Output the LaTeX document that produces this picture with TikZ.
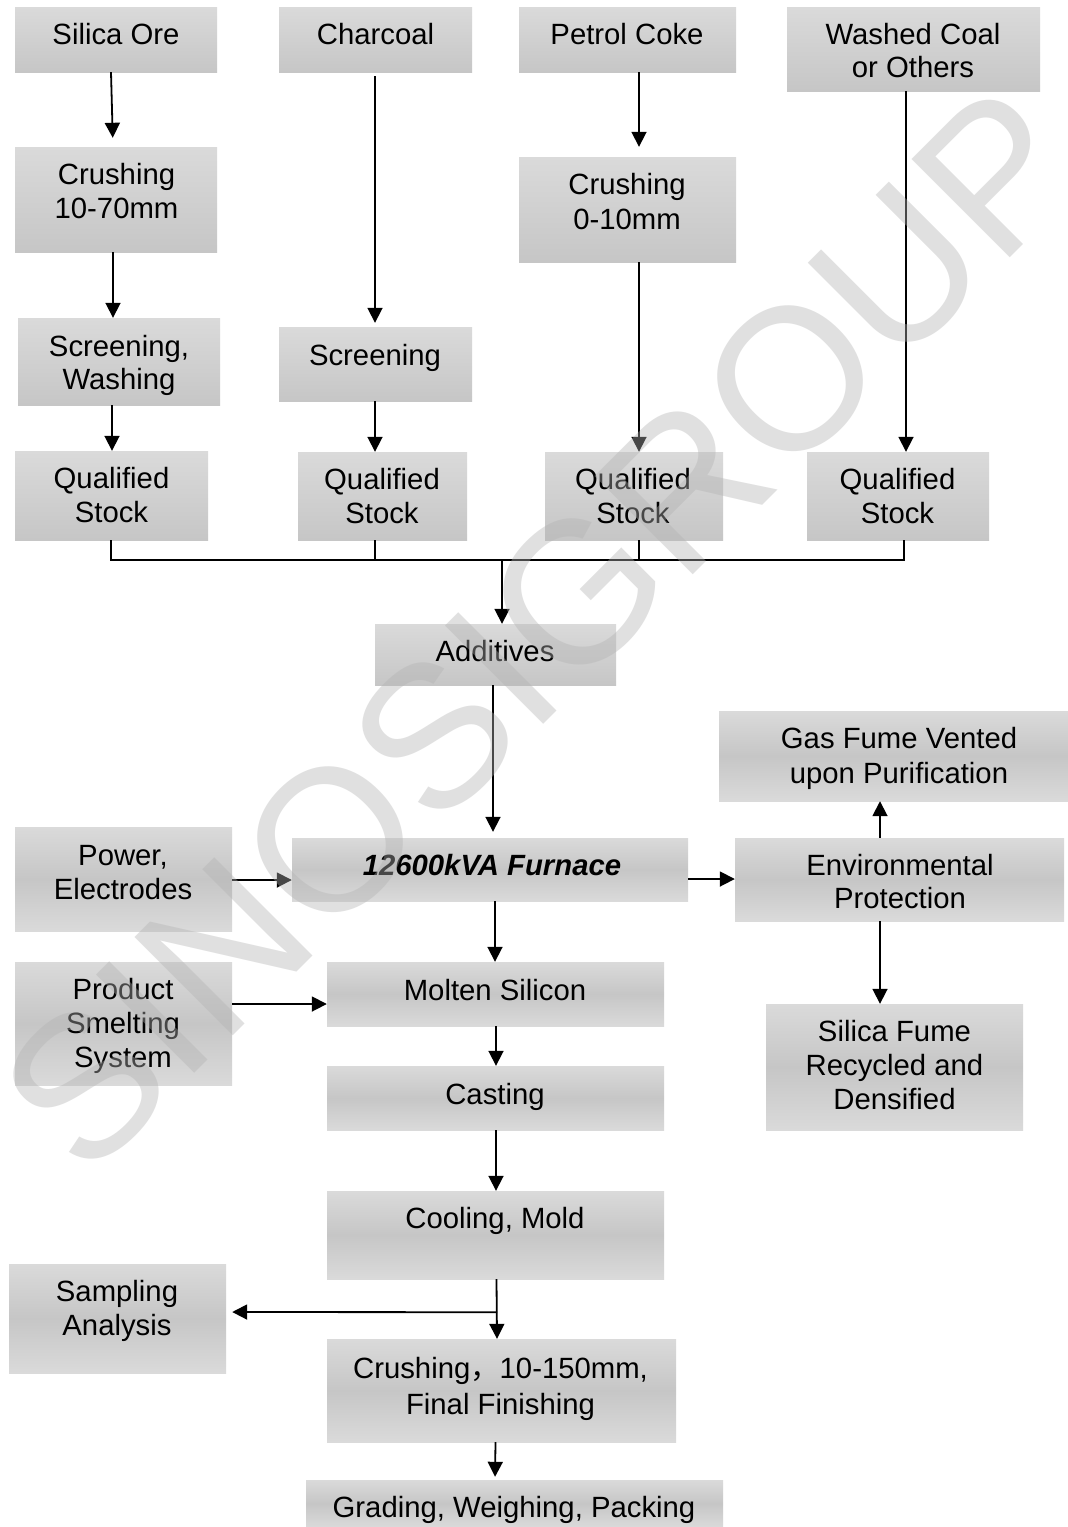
\documentclass[tikz,border=0pt]{standalone}
\usepackage{fontspec}
\setmainfont{Liberation Sans}
\newfontfamily\cjkfont{Noto Sans CJK SC}
\usetikzlibrary{arrows.meta,shadings,calc}
\definecolor{bxlight}{HTML}{DADADA}
\definecolor{bxdark}{HTML}{C6C6C6}
\tikzset{
  x=1pt,y=-1pt,
  bxdown/.style={top color=bxlight,bottom color=bxdark,shading angle=0},
  bxmid/.style={top color=bxlight,bottom color=bxlight,middle color=bxdark},
  lbl/.style={font=\fontsize{29.3}{34}\selectfont,align=center,inner sep=0,text=black},
  lbltight/.style={lbl,font=\fontsize{29.3}{33}\selectfont},
  lblwide/.style={lbl,font=\fontsize{29.3}{35}\selectfont},
  arr/.style={draw=black,line width=1.8,-{Triangle[length=15pt,width=15pt]}},
  lin/.style={draw=black,line width=1.8},
  wm/.style={font=\fontsize{202}{202}\selectfont,text=black!30,opacity=.4,text opacity=.4,inner sep=0},
}
\newcommand{\bxnode}[6]{\node[#6,inner sep=0,minimum width={(#4-#2)*1pt},minimum height={(#5-#3)*1pt}] (#1) at ({(#2+#4)/2},{(#3+#5)/2}) {};}
\begin{document}
\begin{tikzpicture}
\useasboundingbox (0,0) rectangle (1068,1527);
\fill[white] (0,0) rectangle (1068,1527);
% boxes
\bxnode{silica}{15}{7}{217}{72}{bxdown}
\bxnode{crusha}{15}{147}{217}{252}{bxdown}
\bxnode{screena}{18}{318}{220}{405}{bxdown}
\bxnode{qa}{15}{451}{208}{540}{bxdown}
\bxnode{charcoal}{279}{7}{472}{72}{bxdown}
\bxnode{screenb}{279}{327}{472}{401}{bxdown}
\bxnode{qb}{298}{452}{467}{540}{bxdown}
\bxnode{petrol}{519}{7}{736}{72}{bxdown}
\bxnode{crushc}{519}{157}{736}{262}{bxdown}
\bxnode{qc}{545}{452}{723}{540}{bxdown}
\bxnode{washed}{787}{7}{1040}{91}{bxdown}
\bxnode{qd}{807}{452}{989}{540}{bxdown}
\bxnode{additives}{375}{624}{616}{685}{bxdown}
\bxnode{gas}{719}{711}{1068}{801}{bxmid}
\bxnode{env}{735}{838}{1064}{921}{bxmid}
\bxnode{furnace}{292}{838}{688}{901}{bxmid}
\bxnode{power}{15}{827}{232}{931}{bxmid}
\bxnode{product}{15}{962}{232}{1085}{bxmid}
\bxnode{molten}{327}{962}{664}{1026}{bxmid}
\bxnode{casting}{327}{1066}{664}{1130}{bxmid}
\bxnode{cooling}{327}{1191}{664}{1279}{bxmid}
\bxnode{fume}{766}{1004}{1023}{1130}{bxmid}
\bxnode{sampling}{9}{1264}{226}{1373}{bxmid}
\bxnode{final}{327}{1339}{676}{1442}{bxmid}
\bxnode{grading}{306}{1480}{723}{1527}{bxmid}
% labels
\node[lbl] (silica-t) at (116,34) {Silica Ore};
\node[lbl] (crusha-t) at (116.5,191) {Crushing\\10-70mm};
\node[lbltight] (screena-t) at (119,365.5) {Screening,\\Washing};
\node[lbl] (qa-t) at (111.5,495.5) {Qualified\\Stock};
\node[lbl] (charcoal-t) at (375.5,34) {Charcoal};
\node[lbl] (screenb-t) at (375,358) {Screening};
\node[lbl] (qb-t) at (382,496) {Qualified\\Stock};
\node[lbl] (petrol-t) at (627,34) {Petrol Coke};
\node[lblwide] (crushc-t) at (627,201.5) {Crushing\\0-10mm};
\node[lbl] (qc-t) at (633,496) {Qualified\\Stock};
\node[lbltight] (washed-t) at (913,50.5) {Washed Coal\\or Others};
\node[lbl] (qd-t) at (897.5,496) {Qualified\\Stock};
\node[lbl] (additives-t) at (495,651) {Additives};
\node[lblwide] (gas-t) at (899,758) {Gas Fume Vented\\upon Purification};
\node[lbltight] (env-t) at (900,881.5) {Environmental\\Protection};
\node[lbl,font=\fontsize{29.3}{34}\selectfont\bfseries\itshape] (furnace-t) at (492,865) {12600kVA Furnace};
\node[lbl] (power-t) at (123,873) {Power,\\Electrodes};
\node[lbl] (product-t) at (123,1026) {Product\\Smelting\\System};
\node[lbl] (molten-t) at (495,990) {Molten Silicon};
\node[lbl] (casting-t) at (495,1097) {Casting};
\node[lbl] (cooling-t) at (495,1221) {Cooling, Mold};
\node[lbl] (fume-t) at (894.5,1065.5) {Silica Fume\\Recycled and\\Densified};
\node[lbl] (sampling-t) at (117,1311) {Sampling\\Analysis};
\node[lbl,font=\fontsize{29.3}{36}\selectfont] (final-t) at (500.5,1389) {Crushing{\cjkfont ，}10-150mm,\\Final Finishing};
\node[lbl] (grading-t) at (514,1510) {Grading, Weighing, Packing};
% connectors
\draw[arr,shorten >=9pt] ([xshift=-5]silica.south) -- ([xshift=-3]crusha.north);
\draw[arr] ([xshift=-3]crusha.south) -- ([xshift=-6]screena.north);
\draw[arr] ([xshift=-7]screena.south) -- ([xshift=.5]qa.north);
\draw[arr,shorten >=4pt] ([xshift=-.5,yshift=-4]charcoal.south) -- ([xshift=-.5]screenb.north);
\draw[arr] ([xshift=-.5]screenb.south) -- ([xshift=-7.5]qb.north);
\draw[arr,shorten >=10pt] ([xshift=11.5]petrol.south) -- ([xshift=11.5]crushc.north);
\draw[arr] ([xshift=11.5]crushc.south) -- ([xshift=5]qc.north);
\draw[arr] ([xshift=-7.5]washed.south) -- ([xshift=8]qd.north);
% collector
\coordinate (busl) at ($(qa.south)+(-.5,20)$);
\coordinate (busr) at ($(qd.south)+(6,20)$);
\coordinate (busm) at ($(additives.north)+(6.5,-64)$);
\draw[lin] ([xshift=-.5]qa.south) -- (busl) -- (busr) -- ([xshift=6]qd.south);
\draw[lin] ([xshift=-7.5]qb.south) -- ([xshift=-7.5,yshift=-20]qb.south);
\draw[lin] ([xshift=5]qc.south) -- ([xshift=5,yshift=-20]qc.south);
\draw[arr] (busm) -- ([xshift=6.5]additives.north);
\draw[arr,shorten >=6pt] ([xshift=-2.5]additives.south) -- ([xshift=3]furnace.north);
\draw[arr] ([yshift=-1]power.east) -- ([yshift=-10.5]furnace.west);
\draw[arr] ([yshift=19.5]product.east) -- ([yshift=-10]molten.west);
\draw[arr] ([yshift=-9.5]furnace.east) -- ([yshift=.5]env.west);
\draw[arr] ([xshift=-19.5]env.north) -- ([xshift=-13.5]gas.south);
\draw[arr] ([xshift=-19.5]env.south) -- ([xshift=-14.5]fume.north);
\draw[arr] ([xshift=5]furnace.south) -- ([xshift=-.5]molten.north);
\draw[arr] ([xshift=.5]molten.south) -- ([xshift=.5]casting.north);
\draw[arr] ([xshift=.5]casting.south) -- ([xshift=.5]cooling.north);
\draw[arr] ([xshift=1]cooling.south) -- ([xshift=-4.5]final.north);
\coordinate (tap) at ($(cooling.south)+(1.5,33)$);
\draw[arr,shorten >=6pt] (tap) -- ([yshift=6.5]sampling.east);
\draw[arr,shorten >=3pt] ([xshift=-6]final.south) -- ([xshift=-19.5]grading.north);
% watermark
\node[wm,rotate=45] (mark) at (541,629) {SINOSIGROUP};
\end{tikzpicture}
\end{document}
